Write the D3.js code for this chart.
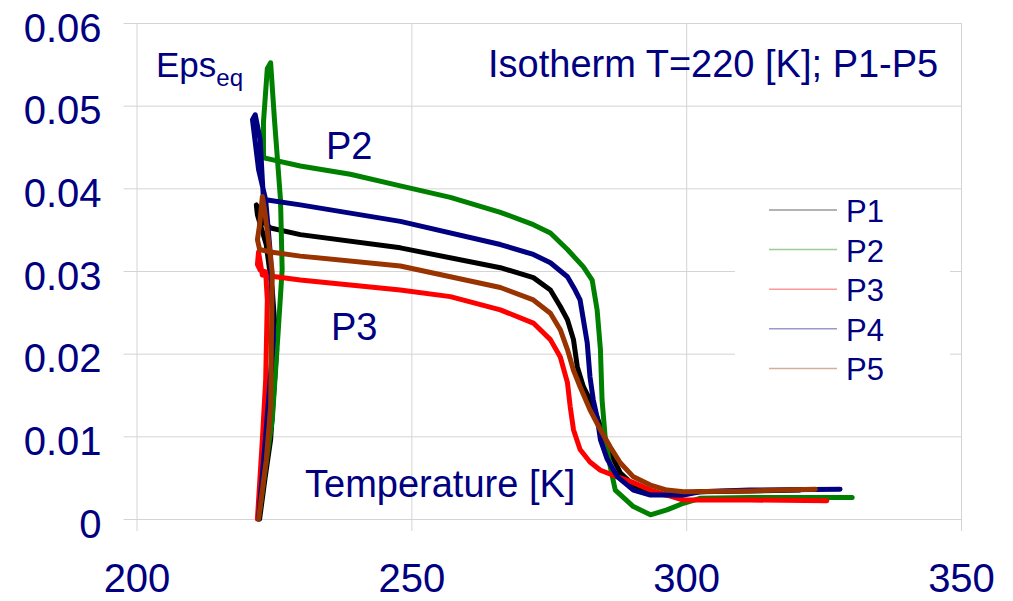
<!DOCTYPE html>
<html>
<head>
<meta charset="utf-8">
<script src="https://cdn.jsdelivr.net/npm/d3@7/dist/d3.min.js"></script>
<style>
  body { margin: 0; background: #fff; }
  text { font-family: "Liberation Sans", Arial, sans-serif; fill: #000080; }
</style>
</head>
<body>
<svg id="chart" width="1013" height="601"></svg>
<script>
// tick values
var xTicks = [200, 250, 300, 350];
var yTicks = [0, 0.01, 0.02, 0.03, 0.04, 0.05, 0.06];

var seriesNames = ["P1", "P2", "P3", "P4", "P5"];

// [temperature K, eps_eq]
var p1 = [[222.4,0],[223.4,0.005],[224.4,0.0096],[225.5,0.0205],[224.7,0.0277],[223.6,0.0332],[222.0,0.0368],
  [221.8,0.038],[222.9,0.036],[224.4,0.0352],[229.8,0.0344],[248,0.0328],[266.2,0.0304],[272.2,0.0292],
  [275.3,0.0277],[277.1,0.0257],[278.4,0.0241],[279.5,0.0217],[280.2,0.0184],[281.3,0.016],[282.5,0.0144],
  [283.8,0.0123],[284.9,0.0104],[286.2,0.008],[288,0.0056],[290.4,0.0041],[293.5,0.0031],[296.5,0.0029],
  [302.5,0.0033],[320.7,0.0035]];
var p2 = [[222.2,0],[223.4,0.006],[224.7,0.012],[225.8,0.0229],[226.5,0.0302],[226.2,0.0386],[225.1,0.0483],
  [224.4,0.0552],[223.8,0.0545],[223.1,0.048],[223.1,0.0437],[224.4,0.0435],[229.8,0.0427],[238.9,0.0417],
  [248,0.0403],[257.1,0.0389],[266.2,0.0371],[272.2,0.0356],[275.3,0.0346],[278.4,0.0326],[281.3,0.0305],
  [282.9,0.0289],[283.8,0.0253],[284.4,0.0205],[284.7,0.0144],[285.3,0.0096],[286.2,0.0063],[287.1,0.0035],
  [290.4,0.0015],[293.5,0.0005],[296.5,0.0011],[299.5,0.0019],[302.5,0.0025],[311.6,0.0026],[320.7,0.0026],
  [330.2,0.0026]];
var p3 = [[222,0],[222.9,0.0096],[223.5,0.0168],[223.8,0.0265],[223.5,0.0299],[222.5,0.0301],[222,0.0308],
  [222.2,0.0323],[222.5,0.0311],[222.9,0.0295],[225.3,0.0293],[229.8,0.0289],[248,0.0277],[257.1,0.0269],
  [266.2,0.0253],[272.2,0.0237],[275.3,0.0217],[277.1,0.0196],[278.4,0.0165],[278.9,0.0136],[279.5,0.0108],
  [280.7,0.0084],[282.5,0.0069],[284.4,0.0059],[287.5,0.0051],[290.4,0.0044],[293.5,0.0035],[299.5,0.0023],
  [311.6,0.0023],[325.6,0.0022]];
var p4 = [[222.2,0],[223.5,0.01],[224.9,0.0217],[224.4,0.0317],[223.5,0.0386],[222.2,0.0423],[221.1,0.0483],
  [221.6,0.0489],[222.5,0.0459],[222.9,0.041],[223.1,0.0386],[223.8,0.0386],[229.8,0.038],[248,0.036],
  [266.2,0.0332],[272.2,0.032],[275.3,0.031],[278.4,0.0293],[279.8,0.0277],[280.7,0.0265],[281.3,0.0241],
  [282,0.0213],[282.5,0.0172],[283.1,0.0144],[283.8,0.0123],[284.4,0.0096],[285.6,0.0073],[287.5,0.0051],
  [290.4,0.0035],[293.5,0.0029],[299.5,0.0029],[302.5,0.0033],[311.6,0.0035],[328,0.0036]];
var p5 = [[222.2,0],[223.6,0.0071],[224.4,0.0136],[224.7,0.0298],[224,0.0338],[223.3,0.0374],[222.9,0.039],
  [222.4,0.0356],[222,0.0338],[222.4,0.0326],[224.4,0.0323],[229.8,0.0318],[248,0.0306],[266.2,0.028],
  [272.2,0.0265],[275.3,0.0249],[277.1,0.0229],[278.4,0.0205],[279.5,0.018],[280.7,0.016],[282.5,0.0132],
  [284.4,0.0108],[286.2,0.0087],[288,0.0068],[290.4,0.0051],[293.5,0.0041],[296.5,0.0035],[299.5,0.0033],
  [311.6,0.0034],[323.5,0.0036]];

var seriesData = [p1, p2, p3, p4, p5];
var colors = ["#000000", "#008000", "#ff0000", "#000080", "#993300"];

var svg = d3.select("#chart");
var x = d3.scaleLinear().domain([200, 350]).range([136.5, 961]);
var y = d3.scaleLinear().domain([0, 0.06]).range([519, 23]);

// vertical grid + x labels
var gx = svg.append("g")
  .attr("transform", "translate(0," + y(0) + ")")
  .call(d3.axisBottom(x).tickValues(xTicks).tickFormat(d3.format("d")).tickSizeOuter(0));
gx.select(".domain").remove();
gx.selectAll(".tick line").attr("y1", 12).attr("y2", y(0.06) - y(0)).attr("stroke", "#d4d4d4");
gx.selectAll(".tick text").attr("y", 73).attr("dy", null)
  .style("font-size", "40px").style("font-family", "'Liberation Sans', Arial, sans-serif").attr("fill", "#000080");

// horizontal grid + y labels
var gy = svg.append("g")
  .attr("transform", "translate(" + x(200) + ",0)")
  .call(d3.axisLeft(y).tickValues(yTicks).tickFormat(function(d) { return d === 0 ? "0" : d.toFixed(2); }).tickSizeOuter(0));
gy.select(".domain").remove();
gy.selectAll(".tick line").attr("x1", -13).attr("x2", x(350) - x(200)).attr("stroke", "#d4d4d4");
gy.selectAll(".tick text").attr("x", -35).attr("dy", 18)
  .style("font-size", "40px").style("font-family", "'Liberation Sans', Arial, sans-serif").attr("fill", "#000080");

// curves
var line = d3.line()
  .x(function(d) { return x(d[0]); })
  .y(function(d) { return y(d[1]); });

svg.append("g").selectAll("path")
  .data(seriesData)
  .enter().append("path")
  .attr("d", line)
  .attr("fill", "none")
  .attr("stroke", function(d, i) { return colors[i]; })
  .attr("stroke-width", 5)
  .attr("stroke-linejoin", "round")
  .attr("stroke-linecap", "round");

// legend
var legend = svg.append("g");
legend.append("rect")
  .attr("x", 735).attr("y", 192).attr("width", 215).attr("height", 200)
  .attr("fill", "#fff");
seriesNames.forEach(function(name, i) {
  var ly = 210 + i * 39.6;
  legend.append("line")
    .attr("x1", 769).attr("x2", 837).attr("y1", ly).attr("y2", ly)
    .attr("stroke", colors[i]).attr("stroke-opacity", 0.4).attr("stroke-width", 1.5);
  legend.append("text")
    .attr("x", 846).attr("y", ly + 12)
    .style("font-size", "31px")
    .text(name);
});

// annotations
svg.append("text").attr("x", 488).attr("y", 77).style("font-size", "38px")
  .text("Isotherm T=220 [K]; P1-P5");

var eps = svg.append("text").attr("x", 156).attr("y", 77).style("font-size", "35px");
eps.append("tspan").text("Eps");
eps.append("tspan").attr("dy", 9).style("font-size", "24px").text("eq");

svg.append("text").attr("x", 326).attr("y", 159).style("font-size", "38px").text("P2");
svg.append("text").attr("x", 331).attr("y", 340).style("font-size", "38px").text("P3");
svg.append("text").attr("x", 305).attr("y", 497).style("font-size", "38px").text("Temperature [K]");
</script>
</body>
</html>
